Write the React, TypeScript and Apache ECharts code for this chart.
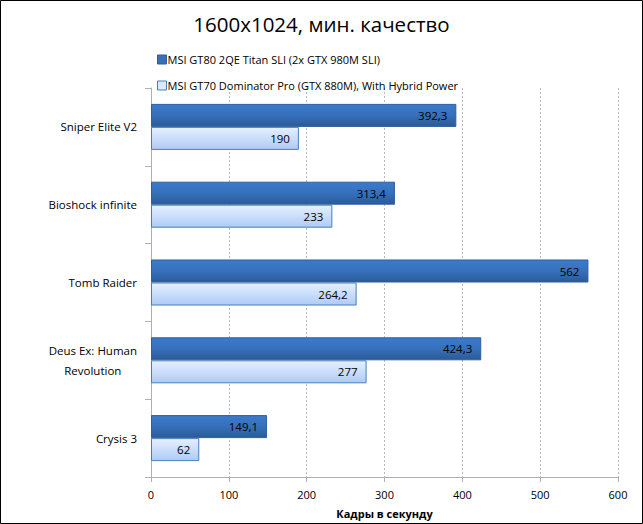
import React, { useEffect, useRef } from "react";
import * as echarts from "echarts";

const categories = ["Sniper Elite V2", "Bioshock infinite", "Tomb Raider", "Deus Ex: Human\nRevolution", "Crysis 3"];
const seriesNames = [
  "MSI GT80 2QE Titan SLI (2x GTX 980M SLI)",
  "MSI GT70 Dominator Pro (GTX 880M), With Hybrid Power",
];
const titanValues = [392.3, 313.4, 562, 424.3, 149.1];
const dominatorValues = [190, 233, 264.2, 277, 62];
const xTicks = [0, 100, 200, 300, 400, 500, 600];

const FONT = "'Open Sans', 'Noto Sans', sans-serif";

export default function App() {
  const ref = useRef<HTMLDivElement>(null);
  useEffect(() => {
    document.body.style.margin = "0";
    const chart = echarts.init(ref.current!, null, { renderer: "svg" });
    const fmt = (p: any) => String(p.value).replace(".", ",");
    chart.setOption({
      animation: false,
      backgroundColor: "#ffffff",
      textStyle: { fontFamily: FONT },
      title: {
        text: "1600x1024, мин. качество",
        left: "center",
        top: 8,
        textStyle: { fontFamily: FONT, fontSize: 20.5, fontWeight: "normal", color: "#000" },
      },
      legend: {
        orient: "vertical",
        left: 152,
        top: 49,
        itemWidth: 9,
        itemHeight: 9,
        itemGap: 15,
        icon: "rect",
        textStyle: { fontFamily: FONT, fontSize: 11, color: "#000", padding: [0, 0, 0, -4] },
        data: [
          { name: seriesNames[0], itemStyle: { color: "#3a6fb8", borderColor: "#2f5f9e", borderWidth: 1 } },
          { name: seriesNames[1], itemStyle: { color: "#dce9fc", borderColor: "#4a7ebb", borderWidth: 1 } },
        ],
      },
      graphic: [
        {
          type: "rect",
          shape: { x: 0.5, y: 0.5, width: 642, height: 523 },
          style: { fill: "none", stroke: "#000", lineWidth: 1 },
          silent: true,
          z: 100,
        },
      ],
      grid: { left: 151, right: 25, top: 88, bottom: 41 },
      xAxis: {
        type: "value",
        min: 0,
        max: 600,
        interval: 100,
        name: "Кадры в секунду",
        nameLocation: "middle",
        nameGap: 31,
        nameTextStyle: { fontFamily: FONT, fontSize: 11, fontWeight: "bold", color: "#000" },
        axisLine: { show: true, lineStyle: { color: "#b0b0b0" } },
        axisTick: { show: true, length: 5, lineStyle: { color: "#b0b0b0" } },
        axisLabel: {
          fontFamily: FONT,
          fontSize: 11,
          color: "#000",
          margin: 12,
          formatter: (v: number) => (xTicks.includes(v) ? String(v) : ""),
        },
        splitLine: { show: true, lineStyle: { color: "#b8b8b8", type: [2, 2] } },
      },
      yAxis: {
        type: "category",
        inverse: true,
        data: categories,
        axisLine: { show: true, lineStyle: { color: "#b0b0b0" } },
        axisTick: { show: true, length: 6, lineStyle: { color: "#b0b0b0" } },
        axisLabel: {
          margin: 14,
          fontFamily: FONT,
          fontSize: 11.5,
          color: "#000",
          lineHeight: 20,
          formatter: (v: string) =>
            v
              .split("\n")
              .map((s) => `{c|${s}}`)
              .join("\n"),
          rich: { c: { align: "center", fontFamily: FONT, fontSize: 11.5, color: "#000", lineHeight: 20 } },
        },
        splitLine: { show: false },
      },
      series: [
        {
          name: seriesNames[0],
          type: "bar",
          data: titanValues,
          barWidth: 23,
          barGap: "0%",
          itemStyle: {
            color: new echarts.graphic.LinearGradient(0, 0, 0, 1, [
              { offset: 0, color: "#3b7bcc" },
              { offset: 0.5, color: "#3670bb" },
              { offset: 1, color: "#2b5a97" },
            ]),
            borderColor: "#2f5f9e",
            borderWidth: 1,
          },
          label: {
            show: true,
            position: "insideRight",
            distance: 9,
            fontFamily: FONT,
            fontSize: 11.5,
            color: "#000",
            formatter: fmt,
          },
        },
        {
          name: seriesNames[1],
          type: "bar",
          data: dominatorValues,
          barWidth: 23,
          barGap: "0%",
          itemStyle: {
            color: new echarts.graphic.LinearGradient(0, 0, 0, 1, [
              { offset: 0, color: "#e6f0fe" },
              { offset: 1, color: "#aecbf6" },
            ]),
            borderColor: "#4a7ebb",
            borderWidth: 1,
          },
          label: {
            show: true,
            position: "insideRight",
            distance: 9,
            fontFamily: FONT,
            fontSize: 11.5,
            color: "#000",
            formatter: fmt,
          },
        },
      ],
    });
    return () => chart.dispose();
  }, []);
  return <div ref={ref} style={{ width: 643, height: 524 }} />;
}
